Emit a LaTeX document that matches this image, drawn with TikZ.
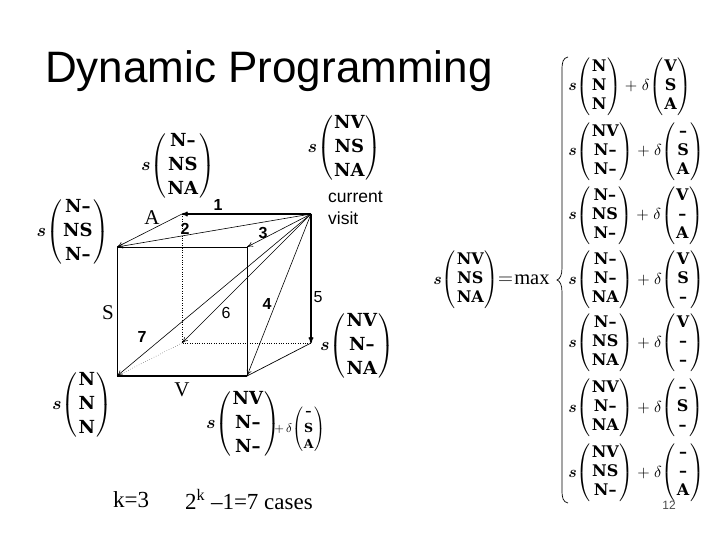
\documentclass[tikz,border=0pt]{standalone}
\usepackage{amsmath, amssymb}
\usepackage{fontspec}
\setmainfont{Liberation Serif}
\newfontfamily\vecfont{DejaVu Serif}
\newfontfamily\slidefont{Liberation Sans}
\usetikzlibrary{calc, arrows.meta}
\newcommand{\vecstretch}{1.1}
\newcommand{\cellword}[1]{\mbox{\vecfont\bfseries #1}}
\newcommand{\cellvec}[3]{\mkern-3mu\left(\renewcommand{\arraystretch}{\vecstretch}\begin{array}{@{\hspace{0.6pt}}c@{\hspace{0.6pt}}}\cellword{#1}\\ \cellword{#2}\\ \cellword{#3}\end{array}\right)}
\tikzset{
  >={To[length=6pt, width=5pt]},
  bigvec/.style={inner sep=0pt, scale=1.8},
  rowvec/.style={inner sep=0pt, scale=1.6, execute at begin node={\renewcommand{\vecstretch}{0.98}}},
  cubeedge/.style={line width=0.7pt},
  heavyedge/.style={line width=1.6pt},
  hiddenedge/.style={line width=0.4pt, dotted},
  casearrow/.style={->, line width=0.6pt},
  casenum/.style={font=\slidefont\fontsize{16}{16}\selectfont\bfseries, inner sep=0pt},
  axisname/.style={font=\fontsize{21}{21}\selectfont, inner sep=0pt},
  visitnote/.style={anchor=west, inner sep=0pt, font=\slidefont\fontsize{17.5}{17.5}\selectfont},
  footnote/.style={anchor=west, inner sep=0pt, font=\fontsize{23}{23}\selectfont}
}
\begin{document}
\begin{tikzpicture}[x=1pt, y=-1pt]
  \useasboundingbox (0,0) rectangle (720,540);
  \fill[white] (0,0) rectangle (720,540);
  % Title
  \node[anchor=west, inner sep=0pt, font=\slidefont\fontsize{44}{44}\selectfont] (title) at (45,71) {Dynamic Programming};
  % Cube corners
  \coordinate (ftl) at (117,247);
  \coordinate (ftr) at (247,247);
  \coordinate (fbl) at (117,376);
  \coordinate (fbr) at (247,376);
  \coordinate (btl) at (182,214);
  \coordinate (btr) at (311,214);
  \coordinate (bbl) at (182,343);
  \coordinate (bbr) at (311,343);
  % Cube edges
  \draw[cubeedge] (ftl) -- (ftr) -- (fbr);
  \draw[cubeedge] (ftl) -- (fbl);
  \draw[heavyedge] (fbl) -- (fbr);
  \draw[cubeedge] (fbr) -- (bbr);
  \draw[hiddenedge] (btl) -- (bbl) -- (bbr);
  \draw[hiddenedge] (bbl) -- (fbl);
  % Seven cases from the current visit
  \draw[casearrow, heavyedge] (btr) -- (btl);
  \draw[casearrow] (btl) -- (ftl);
  \draw[casearrow] (btr) -- (ftl);
  \draw[casearrow] (btr) -- (ftr);
  \draw[casearrow] (btr) -- (fbr);
  \draw[casearrow, heavyedge] (btr) -- (bbr);
  \draw[casearrow] (btr) -- (bbl);
  \draw[casearrow] (btr) -- (fbl);
  % Case numbers
  \foreach \num/\px/\py in {1/218/205, 2/185/229, 3/263/233, 4/267/304, 7/142/337} {
    \node[casenum] (case\num) at (\px,\py) {\num};
  }
  \node[casenum, font=\slidefont\fontsize{16}{16}\selectfont] (case5) at (318,297) {5};
  \node[casenum, font=\slidefont\fontsize{16}{16}\selectfont] (case6) at (226,313) {6};
  % Axis names
  \node[axisname] (axisA) at (152,218) {A};
  \node[axisname] (axisS) at (108,313) {S};
  \node[axisname] (axisV) at (182,390) {V};
  \node[visitnote] (current) at (328,197) {current};
  \node[visitnote] (visit) at (328,218) {visit};
  % Vectors round the cube
  \node[bigvec] (vecNVNSNA) at (344.5,148) {$\boldsymbol{s}\cellvec{NV}{NS}{NA}$};
  \node[bigvec] (vecNNSNA) at (178,166) {$\boldsymbol{s}\cellvec{N–}{NS}{NA}$};
  \node[bigvec] (vecNNSN) at (73,232) {$\boldsymbol{s}\cellvec{N–}{NS}{N–}$};
  \node[bigvec] (vecNVNNA) at (357,346) {$\boldsymbol{s}\cellvec{NV}{N–}{NA}$};
  \node[bigvec] (vecNNN) at (82,405) {$\boldsymbol{s}\cellvec{N}{N}{N}$};
  \node[bigvec] (vecNVNN) at (243,424) {$\boldsymbol{s}\cellvec{NV}{N–}{N–}$};
  \node[inner sep=0pt, scale=1.25, anchor=west] (gapSA) at (274,429) {$+\,\delta\cellvec{–}{S}{A}$};
  % Recurrence
  \node[rowvec, anchor=west] (lhs) at (433,280) {$\boldsymbol{s}\cellvec{NV}{NS}{NA}$};
  \node[anchor=west, inner sep=0pt, font=\fontsize{20.5}{20.5}\selectfont] (maxsign) at (498,280) {$=\mkern-4mu\max$};
  \draw[line width=0.7pt] (568,57) .. controls (563,58) and (562,62) .. (562,70) -- (562,268) .. controls (562,275) and (560,279) .. (557,280) .. controls (560,281) and (562,285) .. (562,292) -- (562,490) .. controls (562,498) and (563,502) .. (568,503);
  \foreach \idx/\ry/\a/\b/\c/\d/\e/\f in {
    1/87/N/N/N/V/S/A,
    2/152/NV/N–/N–/–/S/A,
    3/216/N–/NS/N–/V/–/A,
    4/280/N–/N–/NA/V/S/–,
    5/343/N–/NS/NA/V/–/–,
    6/408/NV/N–/NA/–/S/–,
    7/473/NV/NS/N–/–/–/A} {
    \node[rowvec, anchor=west] (row\idx) at (568,\ry) {$\boldsymbol{s}\cellvec{\a}{\b}{\c}+\mkern1mu\delta\cellvec{\d}{\e}{\f}$};
  }
  % Footer
  \node[footnote] (kval) at (113,500) {k=3};
  \node[footnote] (cases) at (185,500) {2\textsuperscript{k} –1=7 cases};
  \node[inner sep=0pt, font=\slidefont\fontsize{12}{12}\selectfont, text=black!70] (pagenum) at (669,505) {12};
\end{tikzpicture}
\end{document}
